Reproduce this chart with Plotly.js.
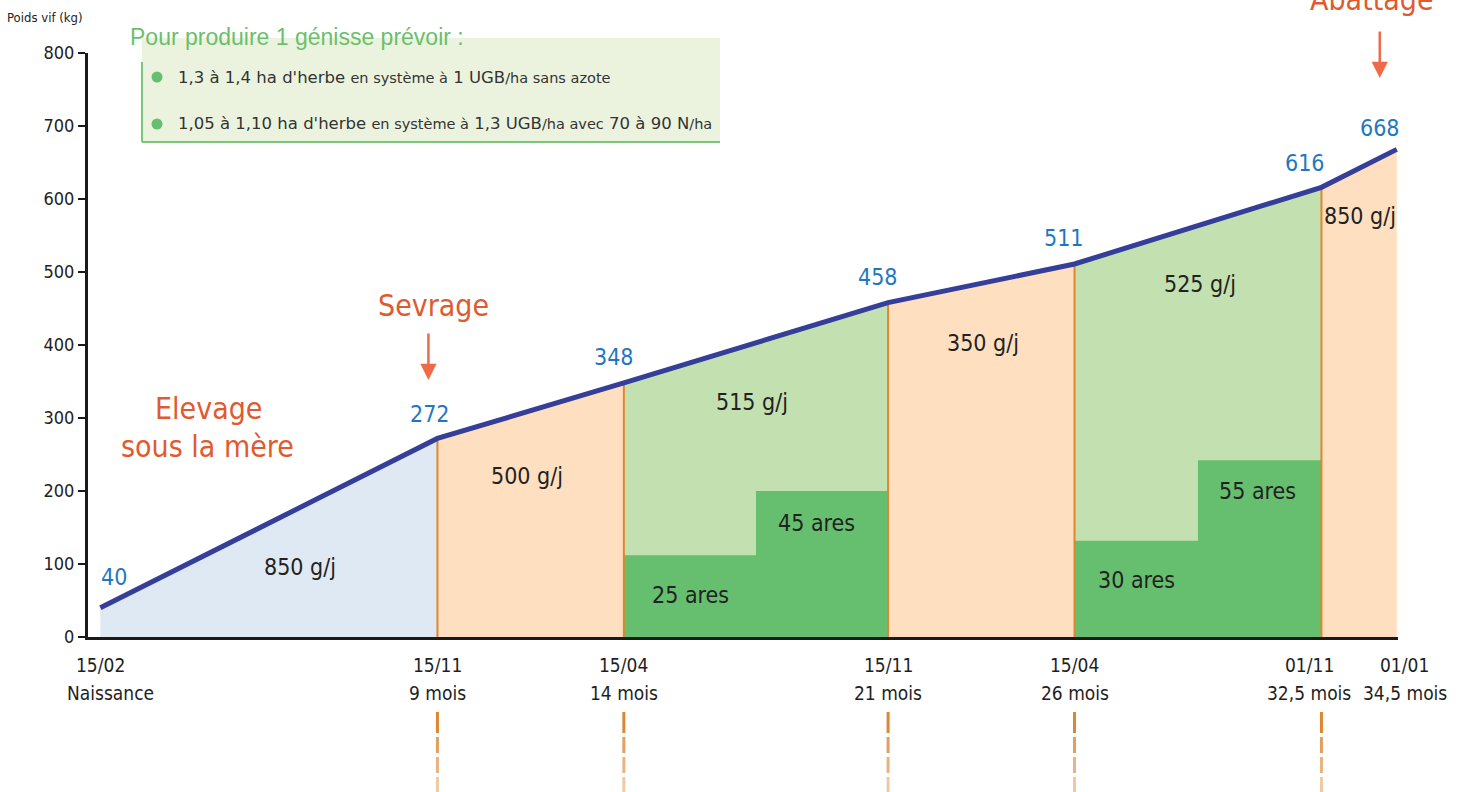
<!DOCTYPE html>
<html><head><meta charset="utf-8">
<script src="https://cdn.plot.ly/plotly-3.0.1.min.js"></script>
<style>html,body{margin:0;padding:0;background:#fff;}#chart{width:1461px;height:792px;}</style>
</head><body><div id="chart"></div>
<script>
// ---- Data ----
const dateLabels = ['15/02','15/11','15/04','15/11','15/04','01/11','01/01'];
const ageLabels  = ['Naissance','9 mois','14 mois','21 mois','26 mois','32,5 mois','34,5 mois'];
const days       = [0, 273, 424, 638, 789, 989, 1050];      // days since birth
const weights    = [40, 272, 348, 458, 511, 616, 668];       // Poids vif (kg)
const gainLabels = ['850 g/j','500 g/j','515 g/j','350 g/j','525 g/j','850 g/j'];
const segmentKind = ['mere','bat','herbe','bat','herbe','bat'];
const aresLabels  = ['25 ares','45 ares','30 ares','55 ares'];
const aresHeights = [112, 200, 132, 242];                    // heights of dark-green blocks (kg scale)
const yTicks = [0,100,200,300,400,500,600,700,800];

// ---- Styles ----
const NARROW = '"Liberation Sans Narrow","Arial Narrow","DejaVu Sans Condensed",sans-serif';
const REG = '"Liberation Sans",Arial,sans-serif';
const WIDE = '"DejaVu Sans",Verdana,sans-serif';
const kindColor = {mere:'#dfe9f3', bat:'#fedfbf', herbe:'#c3e0b0'};
const DARKGREEN = '#66bf6e', ORANGE = '#de8630', BLUE = '#353e98', VAL = '#1f78bf', RED = '#e05a30', ARROW = '#ef6a48';

const L = 88, T = 53, PW = 1310, PH = 584;
const px = x => (x - L) / PW;
const py = y => (637 - y) / PH;

const traces = [];
// segment fills
for (let i = 0; i < days.length - 1; i++) {
  traces.push({x:[days[i], days[i+1]], y:[weights[i], weights[i+1]], type:'scatter', mode:'lines',
    fill:'tozeroy', fillcolor:kindColor[segmentKind[i]], line:{width:0, color:'rgba(0,0,0,0)'}, hoverinfo:'skip'});
}
// dark green blocks (pasture areas)
let k = 0;
for (let i = 0; i < days.length - 1; i++) {
  if (segmentKind[i] !== 'herbe') continue;
  const d0 = days[i], d1 = days[i+1], mid = (d0 + d1) / 2, h1 = aresHeights[k], h2 = aresHeights[k+1];
  traces.push({x:[d0, d0, mid, mid, d1, d1, d0], y:[0, h1, h1, h2, h2, 0, 0], type:'scatter', mode:'lines',
    fill:'toself', fillcolor:DARKGREEN, line:{width:0, color:'rgba(0,0,0,0)'}, hoverinfo:'skip'});
  k += 2;
}
// orange vertical separators
for (let i = 1; i < days.length - 1; i++) {
  traces.push({x:[days[i], days[i]], y:[0, weights[i]], type:'scatter', mode:'lines',
    line:{width:2, color:ORANGE}, hoverinfo:'skip'});
}
// weight curve
traces.push({x:days, y:weights, type:'scatter', mode:'lines', line:{width:5, color:BLUE}, hoverinfo:'skip'});

const ann = [];
const txt = (x, y, text, size, color, family, extra) => Object.assign({xref:'paper', yref:'paper', x:px(x), y:py(y),
  text, showarrow:false, font:{size, color, family}, xanchor:'center', yanchor:'middle'}, extra || {});

// value labels
const valOff = [[14,31],[-7,24],[-10,26],[-10,26],[-11,26],[-16,24],[-17,21]];
weights.forEach((w, i) => ann.push({xref:'x', yref:'y', x:days[i], y:w, text:String(w), showarrow:false,
  xshift:valOff[i][0], yshift:valOff[i][1], font:{size:23, color:VAL, family:NARROW}}));

// gain labels
const gainPos = [[300,567],[527,476],[752,402],[983,343],[1200,284],[1360,216]];
gainLabels.forEach((g, i) => ann.push(txt(gainPos[i][0], gainPos[i][1], g, 23, '#222', NARROW)));
// ares labels
const aresPos = [[690,595],[816,523],[1136,580],[1257,491]];
aresLabels.forEach((a, i) => ann.push(txt(aresPos[i][0], aresPos[i][1], a, 23, '#222', NARROW)));

// x labels
const xShift = [0,0,0,0,0,-12,8];
const ageShift = [10,0,0,0,0,-12,8];
days.forEach((d, i) => {
  ann.push({xref:'x', yref:'paper', x:d, y:py(665), xshift:xShift[i], text:dateLabels[i], showarrow:false,
    yanchor:'middle', font:{size:19, color:'#1e1e1e', family:NARROW}});
  ann.push({xref:'x', yref:'paper', x:d, y:py(693), xshift:ageShift[i], text:ageLabels[i], showarrow:false,
    yanchor:'middle', font:{size:19, color:'#1e1e1e', family:NARROW}});
});

// titles / callouts
ann.push(txt(45, 18, 'Poids vif (kg)', 13, '#222', NARROW));
ann.push(txt(208, 408, 'Elevage', 30, RED, NARROW));
ann.push(txt(207, 447, 'sous la mère', 30, RED, NARROW));
ann.push({xref:'x', yref:'paper', x:days[1], xshift:-4, y:py(305), text:'Sevrage', showarrow:false,
  font:{size:30, color:RED, family:NARROW}, yanchor:'middle'});
ann.push({xref:'x', yref:'paper', x:days[1], xshift:-9, y:py(380), text:'', showarrow:true, ax:0, ay:-48,
  arrowhead:2, arrowsize:1.3, arrowwidth:2.5, arrowcolor:ARROW, standoff:0});
ann.push({xref:'x', yref:'paper', x:days[6], xshift:-25, y:py(0), text:'Abattage', showarrow:false,
  font:{size:30, color:RED, family:NARROW}, yanchor:'middle'});
ann.push({xref:'x', yref:'paper', x:days[6], xshift:-17, y:py(78), text:'', showarrow:true, ax:0, ay:-48,
  arrowhead:2, arrowsize:1.3, arrowwidth:2.5, arrowcolor:ARROW, standoff:0});

// legend box texts
ann.push(txt(128, 37, 'Pour produire 1 génisse prévoir :', 23, '#6cbf6a', REG, {xanchor:'left'}));
const sm = s => '<span style="font-size:14.5px">' + s + '</span>';
ann.push(txt(176, 77, "1,3 à 1,4 ha d'herbe " + sm('en système à') + ' 1 UGB' + sm('/ha sans azote'), 16.5, '#333', WIDE, {xanchor:'left'}));
ann.push(txt(176, 124, "1,05 à 1,10 ha d'herbe " + sm('en système à') + ' 1,3 UGB' + sm('/ha avec') + ' 70 à 90 N' + sm('/ha'), 16.5, '#333', WIDE, {xanchor:'left'}));

const shapes = [
  {type:'rect', xref:'paper', yref:'paper', x0:px(142), x1:px(720), y0:py(142), y1:py(38), fillcolor:'#ebf3df', line:{width:0}, layer:'below'},
  {type:'line', xref:'paper', yref:'paper', x0:px(142), x1:px(142), y0:py(142), y1:py(62), line:{width:2, color:'#7cc67b'}},
  {type:'line', xref:'paper', yref:'paper', x0:px(142), x1:px(720), y0:py(142), y1:py(142), line:{width:2, color:'#7cc67b'}},
  {type:'circle', xref:'paper', yref:'paper', x0:px(151.5), x1:px(162.5), y0:py(82.5), y1:py(71.5), fillcolor:DARKGREEN, line:{width:0}},
  {type:'circle', xref:'paper', yref:'paper', x0:px(151.5), x1:px(162.5), y0:py(129.5), y1:py(118.5), fillcolor:DARKGREEN, line:{width:0}}
];
// dashed guides below axis
const dashY = [[712,733],[737,753],[757,773],[777,792]];
const dashC = ['#df8630','#e49f5e','#e9b380','#efc9a3'];
for (let i = 1; i < days.length - 1; i++) {
  dashY.forEach((dy, j) => shapes.push({type:'line', xref:'x', yref:'paper', x0:days[i], x1:days[i],
    y0:py(dy[0]), y1:py(dy[1]), line:{width:3, color:dashC[j]}}));
}

const layout = {
  width:1461, height:792, margin:{l:L, r:1461 - L - PW, t:T, b:792 - T - PH},
  paper_bgcolor:'#fff', plot_bgcolor:'#fff', showlegend:false,
  xaxis:{range:[-10, 1051], showline:true, linewidth:3, linecolor:'#1a1a1a', showgrid:false, zeroline:false,
    showticklabels:false, ticks:'', fixedrange:true},
  yaxis:{range:[0, 800], tickvals:yTicks, showline:true, linewidth:3, linecolor:'#1a1a1a', showgrid:false, zeroline:false,
    ticks:'outside', ticklen:7, tickwidth:2, tickcolor:'#1a1a1a', tickfont:{size:18, color:'#222', family:NARROW}, fixedrange:true},
  annotations:ann, shapes:shapes
};
Plotly.newPlot('chart', traces, layout, {displayModeBar:false, staticPlot:true});
</script></body></html>
